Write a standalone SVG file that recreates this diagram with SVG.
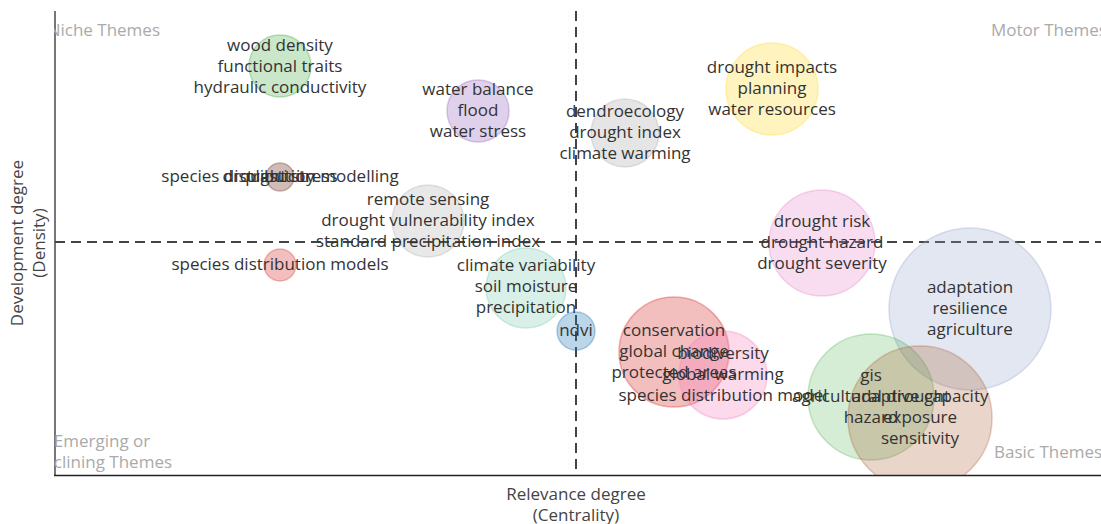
<svg xmlns="http://www.w3.org/2000/svg" width="1101" height="524" viewBox="0 0 1101 524">
<defs>
<clipPath id="plot"><rect x="54" y="0" width="1047" height="475"/></clipPath>
</defs>
<style>
text{font-family:"Open Sans","Liberation Sans",sans-serif;font-size:17px;fill:#333;text-anchor:middle}
.q{fill:#aaa}
.s{text-anchor:start}
.e{text-anchor:end}
.ax{fill:#444}
.b{stroke-width:1.5}
</style>
<rect width="1101" height="524" fill="#fff"/>
<g id="axes">
<line x1="55" y1="11" x2="55" y2="476" stroke="#777" stroke-width="2"/>
<line x1="54" y1="475.5" x2="1101" y2="475.5" stroke="#222" stroke-width="1.5"/>
</g>
<g id="connectors" stroke="#444" stroke-width="2" stroke-dasharray="10,6" fill="none">
<line x1="576" y1="11" x2="576" y2="475"/>
<line x1="55" y1="242" x2="1101" y2="242"/>
</g>
<g clip-path="url(#plot)">
<g id="quadrant-labels">
<text class="q e" x="160" y="36">Niche Themes</text>
<text class="q s" x="991" y="36">Motor Themes</text>
<text class="q s" x="994" y="458">Basic Themes</text>
<text class="q" x="102" y="447">Emerging or</text>
<text class="q" x="102" y="468">Declining Themes</text>
</g>
<g id="bubbles">
<circle id="c-wood" class="b" cx="280" cy="66" r="31" fill="rgba(44,160,44,0.25)" stroke="rgba(44,160,44,0.3)"/>
<circle id="c-water" class="b" cx="478" cy="111" r="31" fill="rgba(148,103,189,0.3)" stroke="rgba(148,103,189,0.35)"/>
<circle id="c-species" class="b" cx="280" cy="177" r="14" fill="rgba(140,86,75,0.4)" stroke="rgba(140,86,75,0.4)"/>
<circle id="c-remote" class="b" cx="428" cy="221" r="36" fill="rgba(127,127,127,0.18)" stroke="rgba(127,127,127,0.2)"/>
<circle id="c-sdm" class="b" cx="280" cy="265" r="16" fill="rgba(214,39,40,0.3)" stroke="rgba(214,39,40,0.3)"/>
<circle id="c-climate" class="b" cx="526" cy="288" r="40" fill="rgba(102,194,165,0.25)" stroke="rgba(102,194,165,0.3)"/>
<circle id="c-ndvi" class="b" cx="576" cy="331" r="19" fill="rgba(31,119,180,0.3)" stroke="rgba(31,119,180,0.35)"/>
<circle id="c-dendro" class="b" cx="625" cy="133" r="34" fill="rgba(127,127,127,0.2)" stroke="rgba(127,127,127,0.2)"/>
<circle id="c-impacts" class="b" cx="772" cy="89" r="46" fill="rgba(255,217,47,0.3)" stroke="rgba(255,217,47,0.35)"/>
<circle id="c-risk" class="b" cx="822" cy="243" r="53" fill="rgba(227,119,194,0.25)" stroke="rgba(227,119,194,0.3)"/>
<circle id="c-adapt" class="b" cx="970" cy="309" r="81" fill="rgba(141,160,203,0.25)" stroke="rgba(141,160,203,0.3)"/>
<circle id="c-conserv" class="b" cx="674" cy="352" r="55" fill="rgba(214,39,40,0.3)" stroke="rgba(214,39,40,0.35)"/>
<circle id="c-biodiv" class="b" cx="723" cy="375" r="44" fill="rgba(247,129,191,0.3)" stroke="rgba(247,129,191,0.35)"/>
<circle id="c-gis" class="b" cx="871" cy="397" r="63" fill="rgba(44,160,44,0.2)" stroke="rgba(44,160,44,0.25)"/>
<circle id="c-capacity" class="b" cx="920" cy="418" r="72" fill="rgba(166,86,40,0.25)" stroke="rgba(166,86,40,0.3)"/>
</g>
<g id="labels">
<g id="n-wood"><text x="280" y="51">wood density</text><text x="280" y="72">functional traits</text><text x="280" y="93">hydraulic conductivity</text></g>
<g id="n-water"><text x="478" y="95">water balance</text><text x="478" y="116">flood</text><text x="478" y="137">water stress</text></g>
<g id="n-species"><text x="280" y="182">species distribution modelling</text><text x="280" y="182">drought stress</text><text x="280" y="182">plasticity</text></g>
<g id="n-remote"><text x="428" y="205">remote sensing</text><text x="428" y="226">drought vulnerability index</text><text x="428" y="247">standard precipitation index</text></g>
<g id="n-sdm"><text x="280" y="270">species distribution models</text></g>
<g id="n-climate"><text x="526" y="271">climate variability</text><text x="526" y="292">soil moisture</text><text x="526" y="313">precipitation</text></g>
<g id="n-ndvi"><text x="576" y="336">ndvi</text></g>
<g id="n-dendro"><text x="625" y="117">dendroecology</text><text x="625" y="138">drought index</text><text x="625" y="159">climate warming</text></g>
<g id="n-impacts"><text x="772" y="73">drought impacts</text><text x="772" y="94">planning</text><text x="772" y="115">water resources</text></g>
<g id="n-risk"><text x="822" y="227">drought risk</text><text x="822" y="248">drought hazard</text><text x="822" y="269">drought severity</text></g>
<g id="n-adapt"><text x="970" y="293">adaptation</text><text x="970" y="314">resilience</text><text x="970" y="335">agriculture</text></g>
<g id="n-conserv"><text x="674" y="336">conservation</text><text x="674" y="357">global change</text><text x="674" y="378">protected areas</text></g>
<g id="n-biodiv"><text x="723" y="359">biodiversity</text><text x="723" y="380">global warming</text><text x="723" y="401">species distribution model</text></g>
<g id="n-gis"><text x="871" y="381">gis</text><text x="871" y="402">agricultural drought</text><text x="871" y="423">hazard</text></g>
<g id="n-capacity"><text x="920" y="402">adaptive capacity</text><text x="920" y="423">exposure</text><text x="920" y="444">sensitivity</text></g>
</g>
</g>
<g id="axis-titles">
<text class="ax" x="576" y="500">Relevance degree</text>
<text class="ax" x="576" y="521">(Centrality)</text>
<text class="ax" transform="translate(23,243) rotate(-90)">Development degree</text>
<text class="ax" transform="translate(45,243) rotate(-90)">(Density)</text>
</g>
</svg>
